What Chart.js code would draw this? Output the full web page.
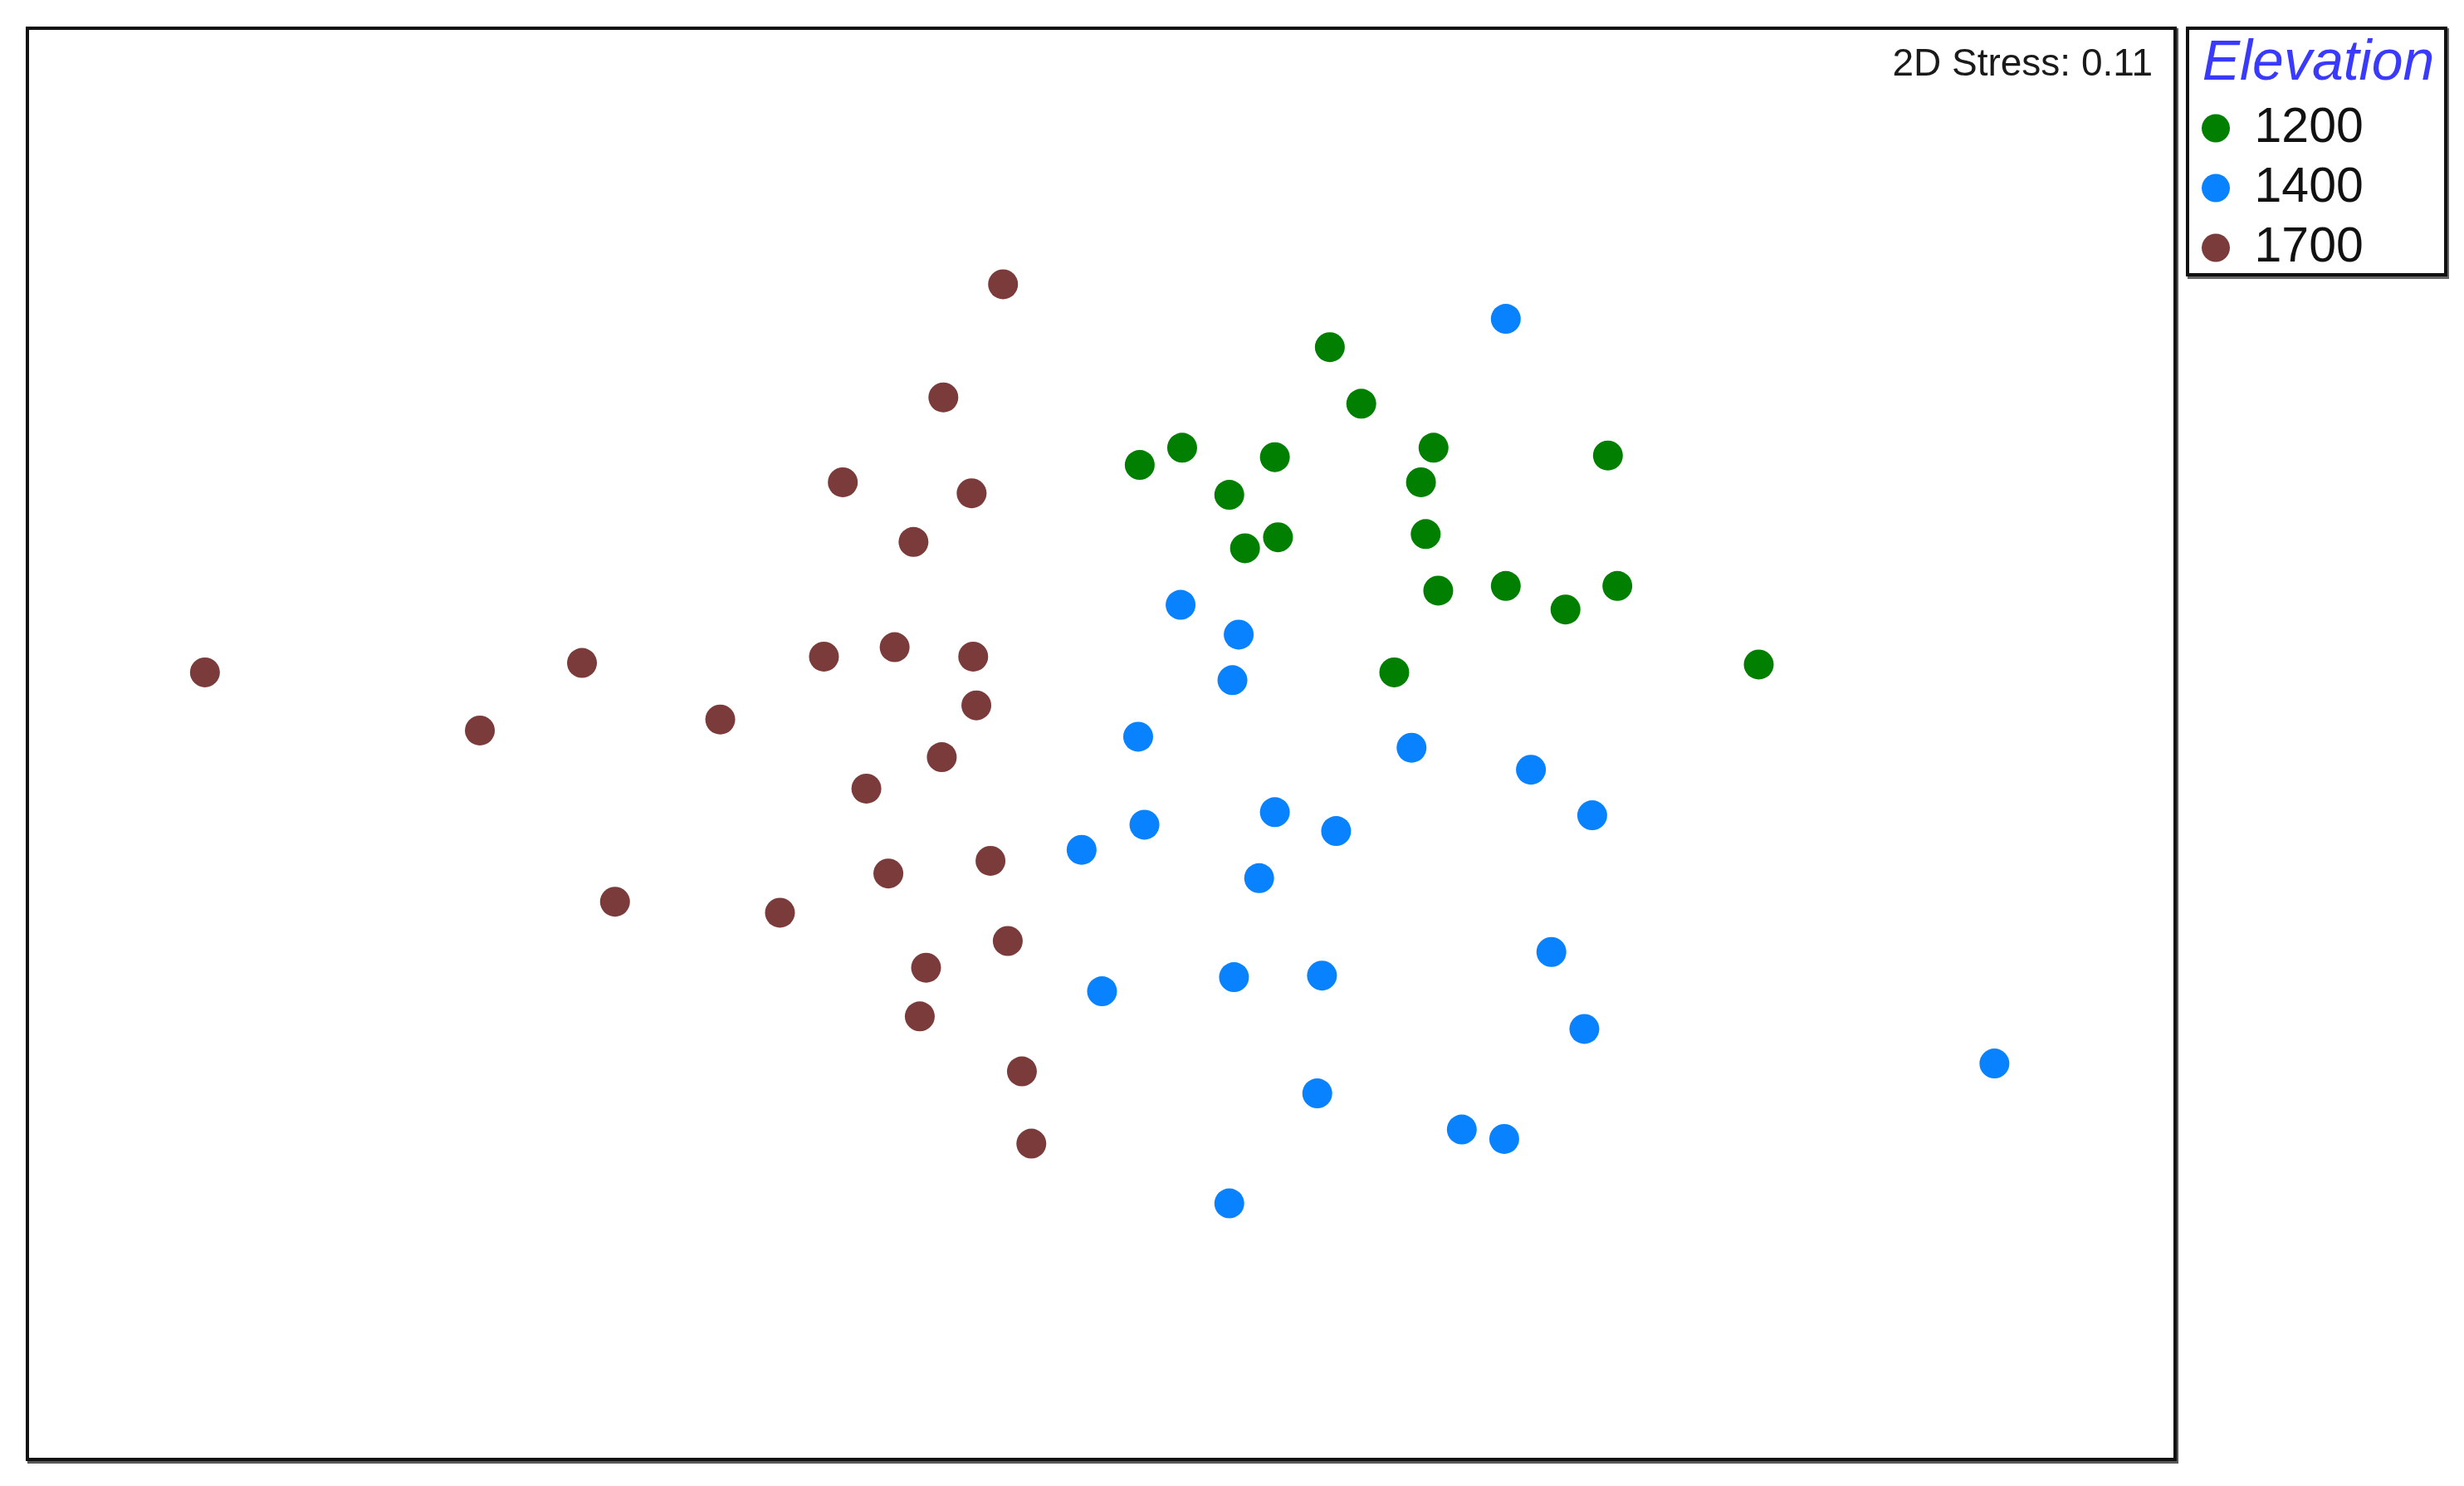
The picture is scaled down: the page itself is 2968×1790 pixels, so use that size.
<!DOCTYPE html>
<html><head><meta charset="utf-8">
<script src="https://cdn.jsdelivr.net/npm/chart.js@4.4.1/dist/chart.umd.min.js"></script>
<style>html,body{margin:0;padding:0;background:#fff;overflow:hidden}canvas{display:block}</style>
</head><body>
<canvas id="c" width="2968" height="1790"></canvas>
<script>
// ---- data (NMDS ordination coordinates) ----
const groups = ['1200', '1400', '1700'];
const legendTitle = 'Elevation';
const stressLabel = '2D Stress: 0.11';

const x1200 = [1.46, 1.66, 0.52, 0.25, 1.11, 2.12, 3.23, 0.82, 2.04, 1.13, 0.92, 2.07, 2.15, 2.58, 2.96, 3.29, 1.87, 4.19];
const y1200 = [2.53, 2.17, 1.89, 1.78, 1.83, 1.89, 1.84, 1.59, 1.67, 1.32, 1.25, 1.34, 0.98, 1.01, 0.86, 1.01, 0.46, 0.51];

const x1400 = [2.58, 0.51, 0.88, 0.84, 0.24, 1.98, 2.74, 3.13, 1.11, 0.28, 1.50, -0.12, 1.01, 2.87, 0.01, 0.85, 1.41, 3.08, 5.69, 1.38, 2.30, 2.57, 0.82];
const y1400 = [2.71, 0.89, 0.70, 0.41, 0.05, -0.02, -0.16, -0.45, -0.43, -0.51, -0.55, -0.67, -0.85, -1.32, -1.57, -1.48, -1.47, -1.81, -2.03, -2.22, -2.45, -2.51, -2.92];

const x1700 = [-0.62, -1.00, -1.64, -0.82, -1.19, -5.70, -3.30, -1.76, -1.31, -0.81, -3.95, -2.42, -0.79, -1.01, -1.49, -1.35, -0.70, -3.09, -2.04, -0.59, -1.11, -1.15, -0.50, -0.44];
const y1700 = [2.93, 2.21, 1.67, 1.60, 1.29, 0.46, 0.52, 0.56, 0.62, 0.56, 0.09, 0.16, 0.25, -0.08, -0.28, -0.82, -0.74, -1.00, -1.07, -1.25, -1.42, -1.73, -2.08, -2.54];

const colors = ['#007F00', '#0882FF', '#7B3B3B'];

// ---- build ----
const xs = [x1200, x1400, x1700];
const ys = [y1200, y1400, y1700];
const FONT = "'Liberation Sans', Arial, sans-serif";

const datasets = groups.map((g, i) => ({
  label: g,
  data: xs[i].map((x, k) => ({ x: x, y: ys[i][k] })),
  backgroundColor: colors[i],
  borderColor: colors[i],
  borderWidth: 0,
  pointStyle: 'circle',
  pointRadius: 18,
  pointHoverRadius: 18
}));

const LEGEND_RIGHT_PAD = 22;
const frame = {
  id: 'frame',
  beforeLayout(chart) {
    const lg = chart.legend;
    if (lg && !lg._patched) {
      const orig = lg.fit;
      lg.fit = function () { orig.call(this); this.width = 326; };
      lg._patched = true;
    }
  },
  afterLayout(chart) {
    const lg = chart.legend;
    lg.left = chart.chartArea.right + 19;
    lg.right = chart.width - LEGEND_RIGHT_PAD;
    lg.width = lg.right - lg.left;
  },
  beforeDraw(chart) {
    const ctx = chart.ctx;
    ctx.save();
    ctx.fillStyle = '#fff';
    ctx.fillRect(0, 0, chart.width, chart.height);
    ctx.restore();
  },
  afterDraw(chart) {
    const ctx = chart.ctx;
    const a = chart.chartArea;
    ctx.save();
    // plot frame
    ctx.strokeStyle = '#585858';
    ctx.lineWidth = 6;
    ctx.beginPath();
    ctx.moveTo(a.right + 1, a.top); ctx.lineTo(a.right + 1, a.bottom + 2); ctx.lineTo(a.left, a.bottom + 2);
    ctx.stroke();
    ctx.strokeStyle = '#111';
    ctx.lineWidth = 4;
    ctx.strokeRect(a.left, a.top, a.right - a.left, a.bottom - a.top);
    // legend frame
    const lg = chart.legend;
    const L = lg.left - 4, R = lg.right, T = a.top, B = 331;
    ctx.strokeStyle = '#666';
    ctx.lineWidth = 6;
    ctx.beginPath();
    ctx.moveTo(R + 1, T); ctx.lineTo(R + 1, B + 2); ctx.lineTo(L, B + 2);
    ctx.stroke();
    ctx.strokeStyle = '#111';
    ctx.lineWidth = 4;
    ctx.strokeRect(L, T, R - L, B - T);
    // stress annotation
    ctx.fillStyle = '#1a1a1a';
    ctx.font = '46px ' + FONT;
    ctx.textAlign = 'right';
    ctx.textBaseline = 'middle';
    ctx.fillText(stressLabel, a.right - 27, 78);
    ctx.restore();
  }
};

new Chart(document.getElementById('c'), {
  type: 'scatter',
  data: { datasets },
  options: {
    responsive: false,
    devicePixelRatio: 1,
    animation: false,
    events: [],
    layout: { padding: { left: 33, top: 34, right: LEGEND_RIGHT_PAD, bottom: 32 } },
    scales: {
      x: { type: 'linear', min: -6.83, max: 6.84, display: false, grid: { display: false } },
      y: { type: 'linear', min: -4.55, max: 4.56, display: false, grid: { display: false } }
    },
    plugins: {
      tooltip: { enabled: false },
      legend: {
        display: true,
        position: 'right',
        align: 'start',
        title: {
          display: true,
          text: legendTitle,
          color: '#3A3AFF',
          position: 'center',
          font: { family: FONT, size: 68, style: 'italic', lineHeight: 1.0 },
          padding: { top: 9, bottom: 1 }
        },
        labels: {
          usePointStyle: true,
          boxWidth: 34,
          boxHeight: 24,
          padding: 13,
          color: '#111',
          font: { family: FONT, size: 59 }
        }
      }
    }
  },
  plugins: [frame]
});
</script>
</body></html>
